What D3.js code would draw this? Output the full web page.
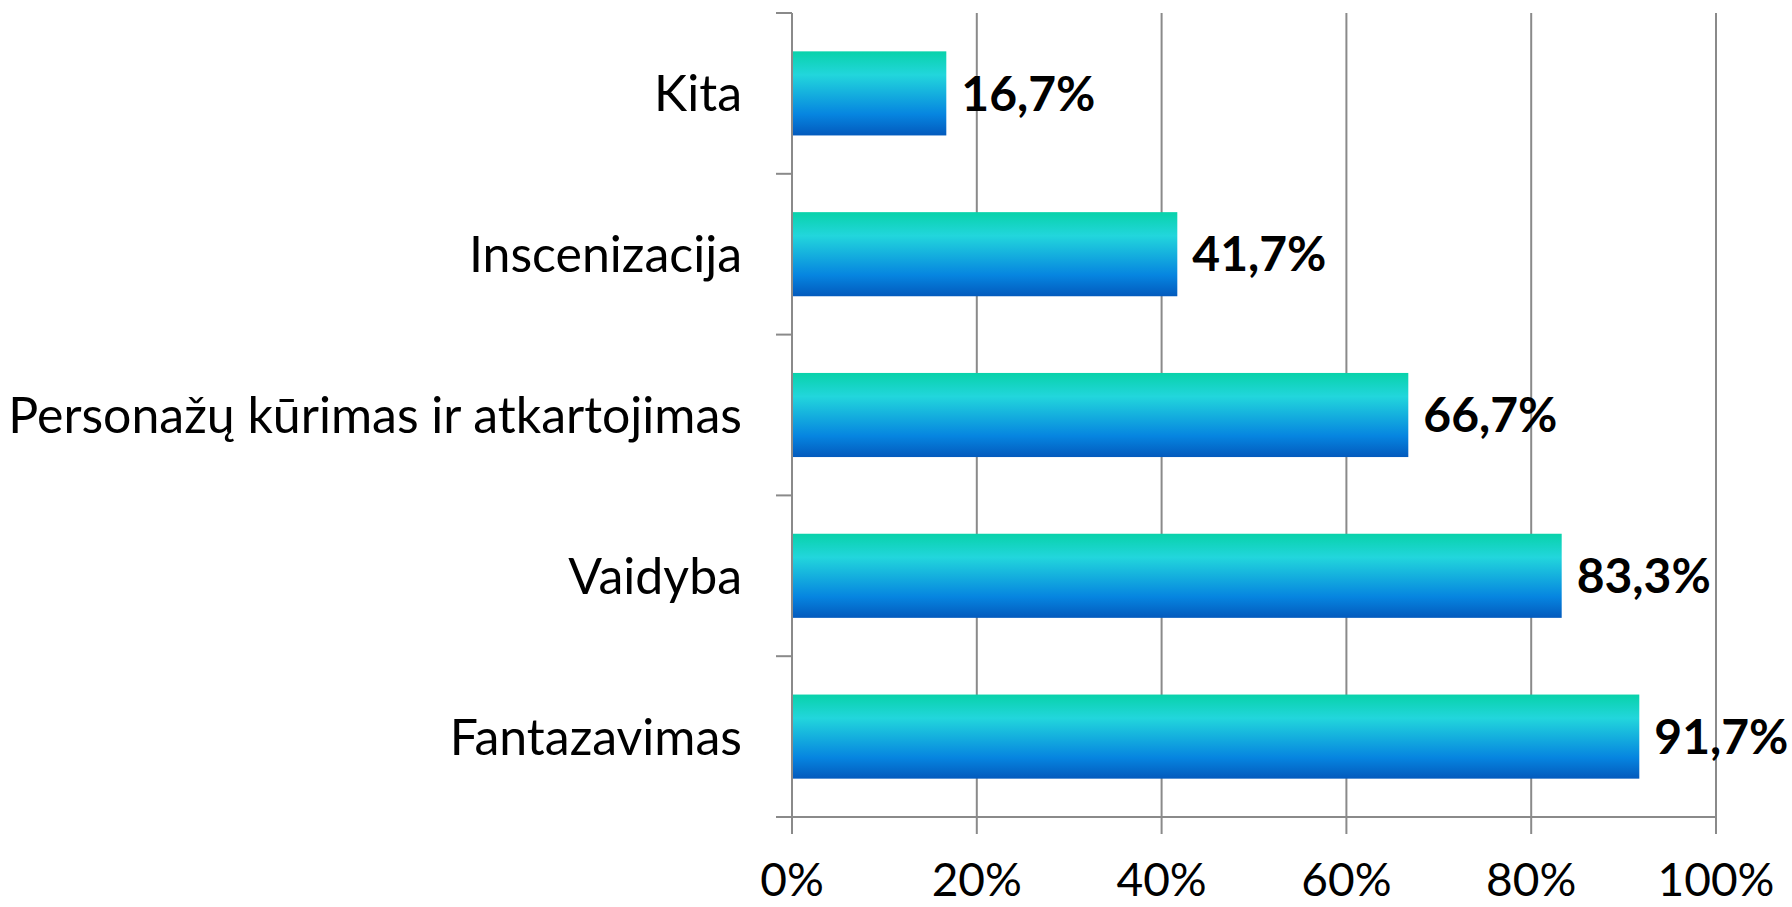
<!DOCTYPE html>
<html>
<head>
<meta charset="utf-8">
<script src="https://cdn.jsdelivr.net/npm/d3@7"></script>
<style>
  html, body { margin: 0; padding: 0; background: #fff; }
  svg { display: block; }
</style>
</head>
<body>
<svg width="1792" height="907"></svg>
<script>
// data (top to bottom)
const categories = ['Kita', 'Inscenizacija', 'Personažų kūrimas ir atkartojimas', 'Vaidyba', 'Fantazavimas']
const values = [16.7, 41.7, 66.7, 83.3, 91.7]
const ticks = [0, 20, 40, 60, 80, 100]

const width = 1792
const height = 907
const margin = { top: 13, right: 76, bottom: 90, left: 792 }
const font = 'Lato, "Open Sans", sans-serif'
const gridColor = '#8a8a8a'

const svg = d3.select('svg')

const x = d3.scaleLinear()
  .domain([0, 100])
  .range([margin.left, width - margin.right])

const y = d3.scaleBand()
  .domain(categories)
  .range([margin.top, height - margin.bottom])
  .paddingInner(0.477)
  .paddingOuter(0.2385)

// gradient for the bars
const grad = svg.append('defs').append('linearGradient')
  .attr('id', 'barGrad')
  .attr('x1', 0).attr('y1', 0).attr('x2', 0).attr('y2', 1)
grad.append('stop').attr('offset', '0%').attr('stop-color', '#08d2aa')
grad.append('stop').attr('offset', '28%').attr('stop-color', '#22d6dc')
grad.append('stop').attr('offset', '75%').attr('stop-color', '#0685e0')
grad.append('stop').attr('offset', '100%').attr('stop-color', '#035abd')

const y0 = margin.top
const y1 = height - margin.bottom

// vertical gridlines
svg.append('g')
  .selectAll('line')
  .data(ticks)
  .join('line')
    .attr('x1', d => x(d)).attr('x2', d => x(d))
    .attr('y1', y0).attr('y2', d => d === 0 ? y1 : y1 + 17)
    .attr('stroke', gridColor)
    .attr('stroke-width', 2)

// x axis line + ticks
svg.append('line')
  .attr('x1', x(0) - 16).attr('x2', x(100))
  .attr('y1', y1).attr('y2', y1)
  .attr('stroke', gridColor).attr('stroke-width', 2)
svg.append('line')
  .attr('x1', x(0)).attr('x2', x(0))
  .attr('y1', y1).attr('y2', y1 + 17)
  .attr('stroke', gridColor).attr('stroke-width', 2)

// left axis tick marks at band boundaries
const step = y.step()
const bounds = d3.range(categories.length).map(i => y0 + i * step)
svg.append('g')
  .selectAll('line')
  .data(bounds)
  .join('line')
    .attr('x1', x(0) - 16).attr('x2', x(0))
    .attr('y1', d => d).attr('y2', d => d)
    .attr('stroke', gridColor).attr('stroke-width', 2)

// bars
svg.append('g')
  .selectAll('rect')
  .data(values)
  .join('rect')
    .attr('x', x(0) + 1)
    .attr('y', (d, i) => y(categories[i]))
    .attr('width', d => x(d) - x(0) - 1)
    .attr('height', y.bandwidth())
    .attr('fill', 'url(#barGrad)')

// value labels
svg.append('g')
  .selectAll('text')
  .data(values)
  .join('text')
    .attr('x', d => x(d) + 15)
    .attr('y', (d, i) => y(categories[i]) + y.bandwidth() / 2)
    .attr('dy', '0.36em')
    .attr('font-family', font)
    .attr('font-weight', 'bold')
    .attr('font-size', 48)
    .attr('fill', '#000')
    .text(d => d.toFixed(1).replace('.', ',') + '%')

// category labels
svg.append('g')
  .selectAll('text')
  .data(categories)
  .join('text')
    .attr('x', x(0) - 50)
    .attr('y', d => y(d) + y.bandwidth() / 2)
    .attr('dy', '0.36em')
    .attr('text-anchor', 'end')
    .attr('font-family', font)
    .attr('font-size', 50)
    .attr('fill', '#000')
    .text(d => d)

// x tick labels
svg.append('g')
  .selectAll('text')
  .data(ticks)
  .join('text')
    .attr('x', d => x(d))
    .attr('y', 896)
    .attr('text-anchor', 'middle')
    .attr('font-family', font)
    .attr('font-size', 46)
    .attr('fill', '#000')
    .text(d => d + '%')
</script>
</body>
</html>
